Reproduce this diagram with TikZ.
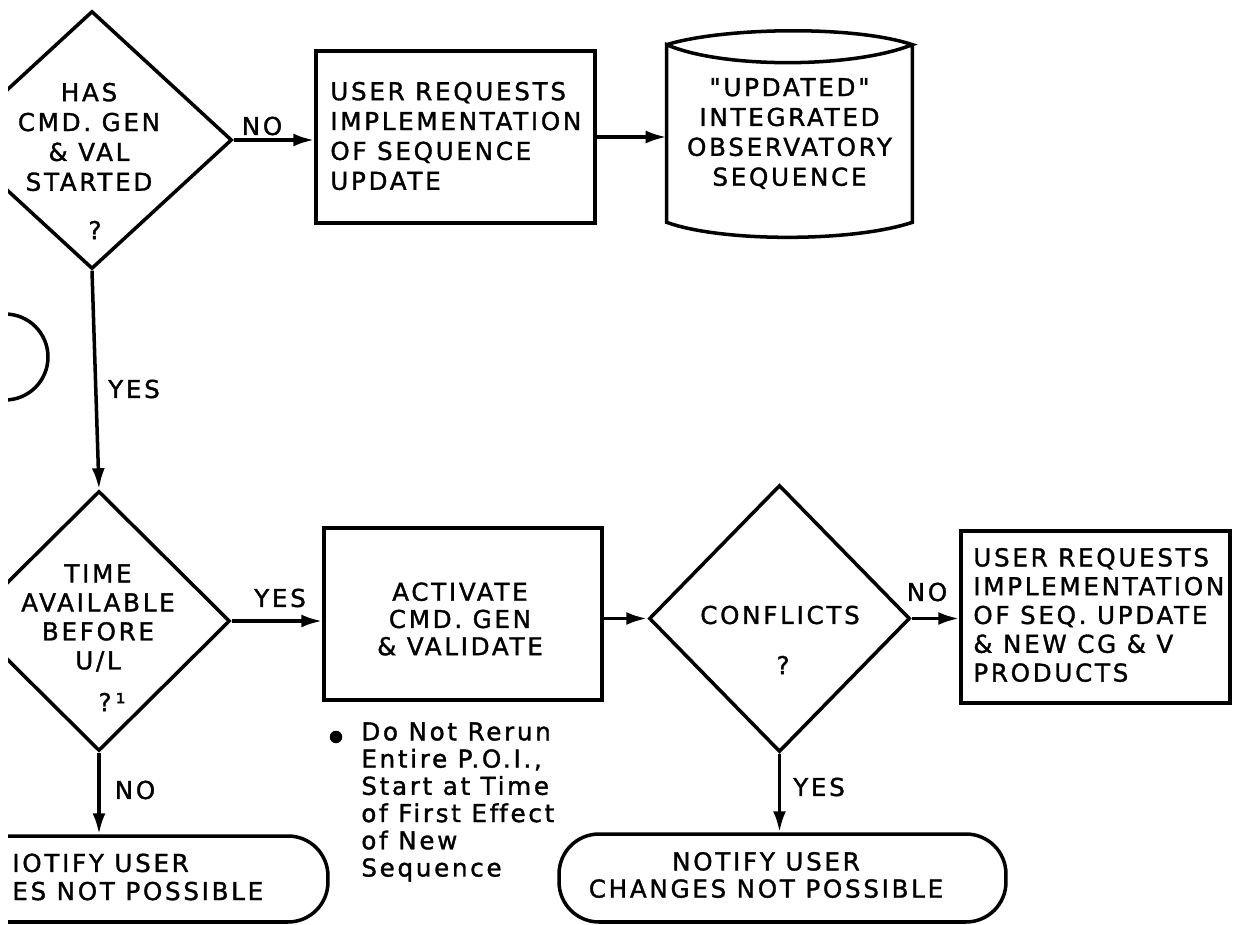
\documentclass[tikz,border=0pt]{standalone}
\usepackage{fontspec}
\newfontfamily\capsfont[LetterSpace=11,FakeBold=1.4,Ligatures=ResetAll]{DejaVu Sans}
\usetikzlibrary{shapes.geometric,arrows.meta}

\tikzset{
  flowline/.style={line width=2pt},
  flowarrow/.style={flowline,-{Latex[length=0.42cm,width=0.26cm]}},
  decision/.style={draw,flowline,diamond,inner sep=0pt},
  procbox/.style={draw,flowline,rectangle,inner sep=0pt},
  termbox/.style={draw,flowline,rectangle,rounded corners=0.8cm,inner sep=0pt},
  capstext/.style={font=\capsfont\fontsize{14pt}{#1}\selectfont,inner sep=0pt},
  capstext/.default=17pt,
}

\begin{document}
\begin{tikzpicture}[x=0.02cm,y=-0.02cm]
  \useasboundingbox (0,0) rectangle (1237,925);
  \clip (8,0) rectangle (1237,925);
  % Top row
  \node[decision,minimum width=5.6cm,minimum height=5.16cm] (hasdec) at (92,140) {};
  \node[capstext,align=center] (hastxt) at (89,137) {HAS\\CMD. GEN\\\& VAL\\STARTED};
  \node[capstext] (hasq) at (95,230) {?};
  \node[procbox,minimum width=5.58cm,minimum height=3.44cm] (reqbox) at (455.5,137) {};
  \node[capstext,align=left,anchor=west] (reqtxt) at (330,136)
    {USER REQUESTS\\IMPLEMENTATION\\OF SEQUENCE\\UPDATE};
  \node[capstext,align=center,minimum width=4.9cm,minimum height=3.54cm] (seqstore) at (789.5,133.5)
    {"UPDATED"\\INTEGRATED\\OBSERVATORY\\SEQUENCE};
  \draw[flowline] (seqstore.north west) .. controls +(55,-17) and +(-60,-20) .. (seqstore.north east)
    .. controls +(-60,24) and +(55,24) .. (seqstore.north west)
    -- (seqstore.south west) .. controls +(55,20) and +(-60,20) .. (seqstore.south east)
    -- (seqstore.north east);
  \draw[flowarrow] (hasdec.east) -- (hasdec.east -| reqbox.west);
  \node[capstext] (nohas) at (262,126) {NO};
  \draw[flowarrow] (reqbox.east) -- (reqbox.east -| seqstore.west);
  % Connector and middle
  \node[circle,draw,flowline,minimum size=1.72cm,inner sep=0pt] (pageconn) at (5,357) {};
  \node[capstext] (yeshas) at (134,389) {YES};
  % Bottom row
  \node[decision,minimum width=5.24cm,minimum height=5.2cm] (timedec) at (99,621) {};
  \node[capstext=16.5pt,align=center] (timetxt) at (98,618) {TIME\\AVAILABLE\\BEFORE\\U/L};
  \node[capstext] (timeq) at (112,702) {?\,¹};
  \draw[flowarrow] (hasdec.south) -- (timedec.north);
  \node[procbox,minimum width=5.56cm,minimum height=3.44cm] (actbox) at (463,614) {};
  \node[capstext=15.5pt,align=center] (acttxt) at (460,619) {ACTIVATE\\CMD. GEN\\\& VALIDATE};
  \draw[flowarrow] (timedec.east) -- (timedec.east -| actbox.west);
  \node[capstext] (yestime) at (280,598) {YES};
  \node[decision,minimum width=5.22cm,minimum height=5.34cm] (confdec) at (779.5,618.5) {};
  \node[capstext] (conftxt) at (780,615) {CONFLICTS};
  \node[capstext] (confq) at (783,665) {?};
  \draw[flowarrow] (confdec.west -| actbox.east) -- (confdec.west);
  \node[procbox,minimum width=5.38cm,minimum height=3.44cm] (implbox) at (1095.5,617) {};
  \node[capstext=16.4pt,align=left,anchor=west] (impltxt) at (973,615)
    {USER REQUESTS\\IMPLEMENTATION\\OF SEQ. UPDATE\\\& NEW CG \& V\\PRODUCTS};
  \draw[flowarrow] (confdec.east) -- (confdec.east -| implbox.west);
  \node[capstext] (noconf) at (927,592) {NO};
  % Terminals
  \node[termbox,minimum width=8.94cm,minimum height=1.76cm] (notifytwo) at (782.5,878) {};
  \node[capstext=15.5pt,align=center] (notifytwotxt) at (766,875) {NOTIFY USER\\CHANGES NOT POSSIBLE};
  \draw[flowarrow] (confdec.south) -- (confdec.south |- notifytwo.north);
  \node[capstext] (yesconf) at (819,787) {YES};
  \node[termbox,minimum width=8.94cm,minimum height=1.72cm] (notifyone) at (104.5,879) {};
  \node[capstext=16pt,align=left,anchor=west] (notifyonetxt) at (12,877) {IOTIFY USER\\ES NOT POSSIBLE};
  \draw[flowarrow] (timedec.south) -- (timedec.south |- notifyone.north);
  \node[capstext] (notime) at (135,790) {NO};
  % Note under the activate box
  \node[circle,fill,inner sep=0pt,minimum size=0.25cm] (notedot) at (336,737) {};
  \node[capstext=15.5pt,align=left,anchor=west] (notetxt) at (361,802)
    {Do Not Rerun\\Entire P.O.I.,\\Start at Time\\of First Ef\kern0.5pt fect\\of New\\Sequence};
\end{tikzpicture}
\end{document}
